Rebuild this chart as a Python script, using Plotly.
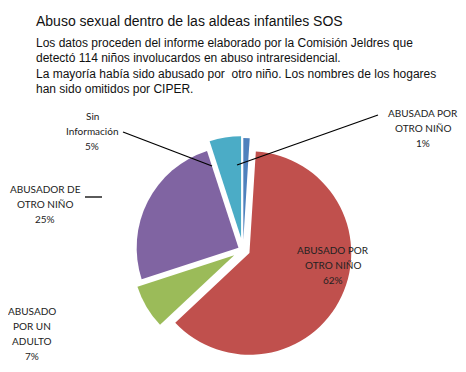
import plotly.graph_objects as go

labels = ["ABUSADA POR<br>OTRO NIÑO", "ABUSADO POR<br>OTRO NIÑO", "ABUSADO<br>POR UN<br>ADULTO",
          "ABUSADOR DE<br>OTRO NIÑO", "Sin<br>Información"]
values = [1, 62, 7, 25, 5]
colors = ["#4F81BD", "#C0504D", "#9BBB59", "#8064A2", "#4BACC6"]
pulls = [0.1, 0.07, 0.1, 0.05, 0.12]

title = "Abuso sexual dentro de las aldeas infantiles SOS"
subtitle_lines = [
    "Los datos proceden del informe elaborado por la Comisión Jeldres que",
    "detectó 114 niños involucardos en abuso intraresidencial.",
    "La mayoría había sido abusado por  otro niño. Los nombres de los hogares",
    "han sido omitidos por CIPER.",
]

# the page body has an 8px margin; size the figure to fill the rest of the window
OFF = 8
W, H = 466 - OFF, 372 - OFF


def px(X):
    return (X - OFF) / W


def py(Y):
    return 1 - (Y - OFF) / H


total = sum(values)
pct = [f"{round(100 * v / total)}%" for v in values]

cx, cy, size = 243, 250, 228
fig = go.Figure(go.Pie(
    labels=labels, values=values, sort=False, direction="clockwise", rotation=0,
    marker=dict(colors=colors, line=dict(color="white", width=0)),
    pull=pulls, textinfo="none",
    domain=dict(x=[px(cx - size / 2), px(cx + size / 2)], y=[py(cy + size / 2), py(cy - size / 2)]),
    showlegend=False, hoverinfo="label+percent",
))

txt_font = dict(family="Arial, Liberation Sans, sans-serif", size=12, color="#111111")
ann = [dict(text=title, x=px(34), y=py(21), xref="paper", yref="paper",
            xanchor="left", yanchor="middle", showarrow=False,
            font=dict(family="Arial, Liberation Sans, sans-serif", size=14, color="#111111"))]
for i, line in enumerate(subtitle_lines):
    ann.append(dict(text=line, x=px(34), y=py(43 + 15.4 * i), xref="paper", yref="paper",
                    xanchor="left", yanchor="middle", showarrow=False, font=txt_font))

lab_font = dict(family="Lato, Open Sans, sans-serif", size=10, color="#222222")
# label centre x and first-line centre y, in window pixels
lab_pos = [(423, 113), (333, 250), (32, 311), (45, 189), (92, 116)]
for lab, p, (lx, ly) in zip(labels, pct, lab_pos):
    for j, part in enumerate(lab.split("<br>") + [p]):
        ann.append(dict(text=part, x=px(lx), y=py(ly + 15 * j), xref="paper", yref="paper",
                        xanchor="center", yanchor="middle", showarrow=False, font=lab_font))

lines = [((378, 115), (237, 165)), ((123, 132), (212, 166)), ((85, 197), (102, 197))]
shapes = [dict(type="line", xref="paper", yref="paper",
               x0=px(a[0]), y0=py(a[1]), x1=px(b[0]), y1=py(b[1]),
               line=dict(color="black", width=1.3)) for a, b in lines]

fig.update_layout(
    width=W, height=H, margin=dict(l=0, r=0, t=0, b=0),
    paper_bgcolor="white", plot_bgcolor="white",
    annotations=ann, shapes=shapes,
)

fig.write_html("out.html")
